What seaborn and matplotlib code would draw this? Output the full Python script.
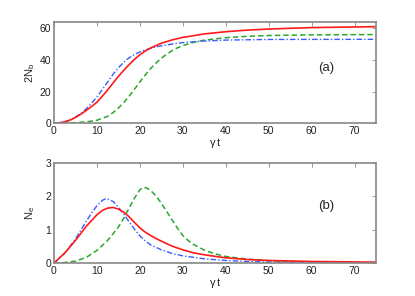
import numpy as np
import pandas as pd
import matplotlib
matplotlib.use('Agg')
import matplotlib.pyplot as plt
import seaborn as sns

# values
t_top_red = [0, 1.25, 2.5, 3.75, 5, 6.25, 7.5, 8.75, 10, 11.25, 12.5, 13.75, 15, 16.25, 17.5, 18.75, 20,
             21.25, 22.5, 25, 27.5, 30, 35, 40, 45, 50, 60, 75]
nb_red = [0, 0.2, 0.8, 1.9, 3.6, 5.6, 8, 10.5, 13.2, 17, 21, 25.3, 29.5, 33.4, 37, 40.3, 43.2,
          45.6, 47.5, 50.5, 52.6, 54.2, 56.4, 57.8, 58.8, 59.5, 60.4, 61]
t_top_blue = [0, 1.25, 2.5, 3.75, 5, 6.25, 7.5, 8.75, 10, 11.25, 12.5, 13.75, 15, 16.25, 17.5, 18.75, 20,
              21.25, 22.5, 23.75, 25, 27.5, 30, 35, 40, 50, 75]
nb_blue = [0, 0.2, 0.8, 2, 3.8, 6.1, 9, 12.5, 16.5, 21.2, 26, 30.8, 35, 38.5, 41.3, 43.4, 45,
           46.3, 47.3, 48.2, 48.9, 50, 50.9, 51.9, 52.5, 52.9, 53]
t_top_green = [0, 5, 7.5, 10, 12.5, 13.75, 15, 16.25, 17.5, 18.75, 20, 21.25, 22.5, 23.75, 25, 26.25,
               27.5, 28.75, 30, 32.5, 35, 40, 45, 50, 60, 75]
nb_green = [0, 0.3, 0.8, 1.8, 4.3, 6.6, 9.5, 13, 17, 21.4, 26, 30.4, 34.5, 38, 41, 43.6,
            45.8, 47.6, 49, 51.1, 52.5, 54, 54.9, 55.4, 55.8, 56]

t_red = [0, 2.5, 5, 7.5, 10, 11.25, 12.5, 13.75, 15, 16.25, 17.5, 18.75, 20, 21.25, 22.5, 23.75, 25,
         27.5, 30, 32.5, 35, 40, 45, 50, 60, 75]
ne_red = [0, 0.3, 0.68, 1.1, 1.45, 1.58, 1.65, 1.67, 1.62, 1.53, 1.39, 1.22, 1.06, 0.93, 0.83, 0.74, 0.66,
          0.51, 0.4, 0.31, 0.25, 0.16, 0.11, 0.08, 0.05, 0.03]
t_blue = [0, 2.5, 5, 7.5, 8.75, 10, 11.25, 12, 12.5, 13.75, 15, 16.25, 17.5, 18.75, 20, 21.25, 22.5,
          25, 27.5, 30, 35, 40, 45, 50, 60, 75]
ne_blue = [0, 0.3, 0.72, 1.25, 1.5, 1.72, 1.88, 1.93, 1.92, 1.85, 1.68, 1.47, 1.24, 1.02, 0.82, 0.67, 0.55,
           0.4, 0.29, 0.22, 0.13, 0.08, 0.05, 0.03, 0.015, 0.01]
t_green = [0, 2.5, 5, 7.5, 10, 12.5, 13.75, 15, 16.25, 17.5, 18.75, 20, 20.75, 21.5, 22.5, 23.75, 25,
           26.25, 27.5, 28.75, 30, 31.25, 32.5, 35, 37.5, 40, 45, 50, 60, 75]
ne_green = [0, 0.02, 0.06, 0.17, 0.38, 0.68, 0.88, 1.08, 1.35, 1.65, 1.95, 2.2, 2.27, 2.26, 2.18, 2.02, 1.8,
            1.55, 1.3, 1.05, 0.83, 0.68, 0.56, 0.39, 0.28, 0.2, 0.12, 0.07, 0.03, 0.01]

sns.set_theme(style='white')
plt.rcParams['font.family'] = ['Liberation Sans', 'DejaVu Sans']
plt.rcParams['mathtext.fontset'] = 'custom'
plt.rcParams['mathtext.rm'] = 'Liberation Sans'
plt.rcParams['mathtext.it'] = 'Liberation Sans'

red = '#ff1a1a'
blue = '#3a5cff'
green = '#2aa82a'
frame = '#888888'
dashed = (0, (3.5, 2))
dashdot = (0, (4, 1.5, 1, 1.5))

fig = plt.figure(figsize=(4.15, 2.96), dpi=100)
ax1 = fig.add_axes([0.130, 0.584, 0.776, 0.342])
ax2 = fig.add_axes([0.130, 0.111, 0.776, 0.338])

sns.lineplot(x=t_top_green, y=nb_green, ax=ax1, color=green, linestyle=dashed, lw=1.1)
sns.lineplot(x=t_top_blue, y=nb_blue, ax=ax1, color=blue, linestyle=dashdot, lw=1.0)
sns.lineplot(x=t_top_red, y=nb_red, ax=ax1, color=red, lw=1.2)

sns.lineplot(x=t_green, y=ne_green, ax=ax2, color=green, linestyle=dashed, lw=1.1)
sns.lineplot(x=t_blue, y=ne_blue, ax=ax2, color=blue, linestyle=dashdot, lw=1.0)
sns.lineplot(x=t_red, y=ne_red, ax=ax2, color=red, lw=1.2)

ax1.set_xlim(0, 75)
ax1.set_ylim(0, 64)
ax1.set_yticks([0, 20, 40, 60])
ax2.set_xlim(0, 75)
ax2.set_ylim(0, 3)
ax2.set_yticks([0, 1, 2, 3])

for ax in (ax1, ax2):
    ax.set_xticks(np.arange(0, 80, 10))
    ax.tick_params(direction='in', length=3, width=0.6, labelsize=7.5,
                   top=True, right=True, pad=2, colors=frame, labelcolor='#222222')
    for s in ax.spines.values():
        s.set_color(frame)
        s.set_linewidth(1.2)
    ax.set_xlabel(r'$\gamma\,$t', fontsize=8, labelpad=0)

ax1.set_ylabel(r'2N$_\mathrm{b}$', fontsize=8, labelpad=2)
ax2.set_ylabel(r'N$_\mathrm{e}$', fontsize=8, labelpad=6)
ax1.text(63.5, 35, '(a)', fontsize=9.5, ha='center', va='center')
ax2.text(63.5, 1.7, '(b)', fontsize=9.5, ha='center', va='center')

fig.savefig('out.png', dpi=100)
